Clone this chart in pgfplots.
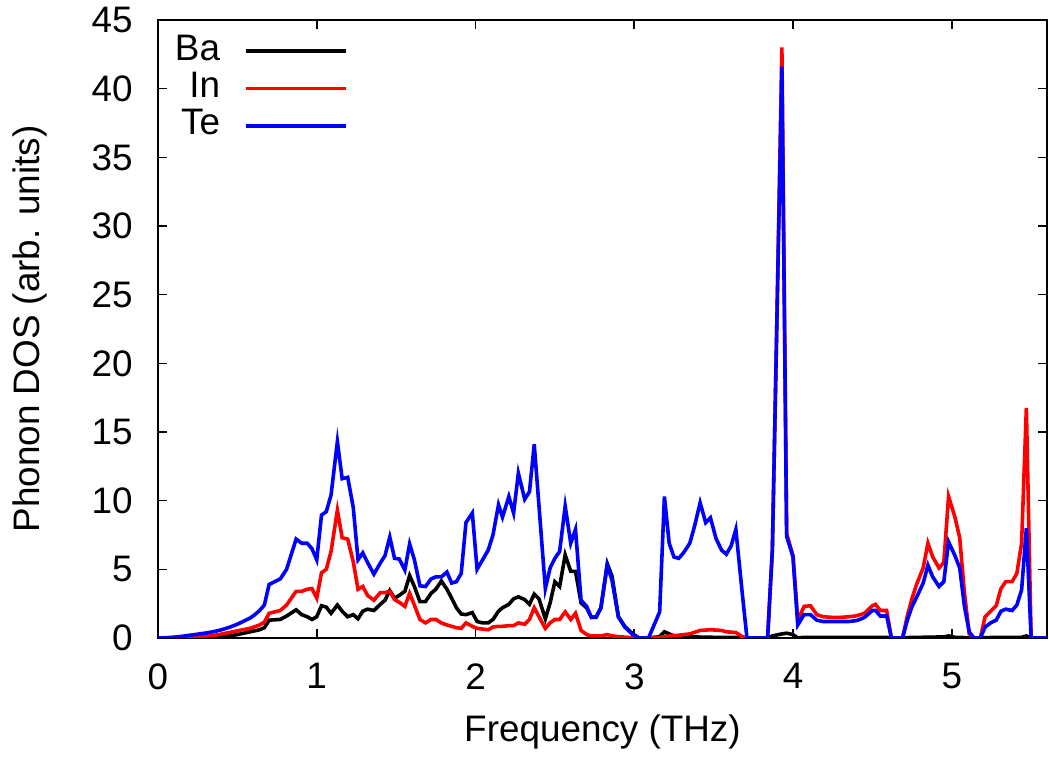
\documentclass[border=0pt]{standalone}
\usepackage{fontspec}
\setmainfont{Liberation Sans}
\usepackage{pgfplots}
\pgfplotsset{compat=1.18}
\begin{document}
\fontsize{18.5}{22}\selectfont
\begin{tikzpicture}
\begin{axis}[
  at={(0,0)}, anchor=south west,
  scale only axis, width=444.5bp, height=309bp,
  xmin=0, xmax=5.6, ymin=0, ymax=45,
  xtick={0,1,2,3,4,5}, ytick={0,5,10,15,20,25,30,35,40,45},
  tick align=inside, major tick length=4.5bp,
  axis line style={line width=1bp},
  every tick/.style={line width=0.8bp, black},
  /pgf/number format/assume math mode=true,
  tick label style={font=\fontsize{18.5}{22}\selectfont},
  xticklabel style={yshift=-6.3bp},
  yticklabel style={xshift=-6.3bp},
  xlabel={Frequency (THz)}, ylabel={Phonon DOS (arb. units)},
  label style={font=\fontsize{18.5}{22}\selectfont},
  xlabel style={at={(axis description cs:0.5,-0.152)}, anchor=center},
  ylabel style={at={(axis description cs:-0.144,0.5)}, anchor=center},
  legend plot pos=right, legend cell align=right,
  legend style={draw=none, fill=none, at={(axis description cs:0.2205,0.987)}, anchor=north east,
    nodes={inner sep=0pt, text height=0.75em, text depth=0.25em}, column sep=12bp, row sep=0.3bp,
    font=\fontsize{18.5}{22}\selectfont},
  legend image code/.code={\draw[#1] (0bp,0bp) -- (50bp,0bp);},
  every axis plot/.append style={line width=1.8bp},
]
% Ba
\addplot[black] coordinates {
(0,0) (0.2,0.02) (0.37,0.05) (0.45,0.15) (0.50,0.25) (0.58,0.45) (0.64,0.6) (0.67,0.75)
(0.70,1.3) (0.77,1.35) (0.81,1.6) (0.87,2.05) (0.905,1.7) (0.94,1.55) (0.97,1.35) (1.00,1.55)
(1.03,2.35) (1.06,2.25) (1.09,1.8) (1.13,2.4) (1.16,1.95) (1.195,1.55) (1.23,1.7) (1.26,1.4)
(1.29,1.95) (1.32,2.1) (1.36,2.0) (1.40,2.45) (1.43,2.75) (1.46,3.45) (1.49,2.9) (1.52,3.1)
(1.555,3.4) (1.585,4.55) (1.615,3.75) (1.65,2.65) (1.685,2.65) (1.72,3.25) (1.75,3.55) (1.785,4.15)
(1.82,3.55) (1.85,2.9) (1.88,2.2) (1.91,1.75) (1.94,1.7) (1.98,1.85) (2.01,1.2) (2.045,1.1)
(2.08,1.1) (2.11,1.35) (2.145,1.95) (2.17,2.2) (2.21,2.45) (2.24,2.85) (2.27,3.0) (2.31,2.8)
(2.34,2.45) (2.37,3.2) (2.40,2.85) (2.44,1.4) (2.47,2.55) (2.50,4.1) (2.53,3.75) (2.565,6.05)
(2.60,4.85) (2.63,4.85) (2.665,2.55) (2.70,2.2) (2.73,1.5) (2.76,1.5) (2.79,2.2) (2.83,5.4)
(2.86,4.5) (2.90,1.55) (2.94,0.85) (2.99,0.3) (3.03,0) (3.09,0) (3.16,0.1) (3.19,0.45)
(3.22,0.3) (3.25,0.15) (3.28,0.1) (3.35,0.08) (3.50,0.05) (3.68,0.03) (3.71,0) (3.84,0)
(3.87,0.15) (3.93,0.3) (3.96,0.35) (4.00,0.25) (4.03,0) (4.07,0.05) (4.50,0.05) (4.59,0.05)
(4.62,0) (4.69,0) (4.72,0.03) (4.95,0.08) (4.98,0.15) (5.02,0.05) (5.11,0.02) (5.14,0) (5.18,0)
(5.21,0.03) (5.44,0.05) (5.47,0.15) (5.50,0) (5.6,0)
};
\addlegendentry{Ba}
% In
\addplot[red] coordinates {
(0,0) (0.1,0.01) (0.2,0.05) (0.3,0.15) (0.37,0.22) (0.45,0.4) (0.50,0.52) (0.58,0.7)
(0.64,0.95) (0.67,1.15) (0.70,1.8) (0.77,2.0) (0.81,2.4) (0.87,3.4) (0.905,3.4) (0.94,3.55)
(0.97,3.6) (1.00,2.9) (1.03,4.75) (1.06,5.0) (1.09,6.3) (1.13,9.3) (1.16,7.3) (1.195,7.2)
(1.23,5.55) (1.26,3.55) (1.29,3.75) (1.32,3.1) (1.36,2.75) (1.40,3.3) (1.43,3.3) (1.46,3.4)
(1.49,2.8) (1.52,2.6) (1.555,2.3) (1.585,3.25) (1.615,2.4) (1.65,1.35) (1.685,1.1) (1.72,1.35)
(1.75,1.35) (1.785,1.1) (1.82,0.95) (1.85,0.85) (1.88,0.75) (1.91,0.7) (1.94,1.1) (1.98,0.85)
(2.01,0.7) (2.045,0.65) (2.08,0.6) (2.11,0.8) (2.145,0.85) (2.17,0.85) (2.21,0.9) (2.24,0.9)
(2.27,1.1) (2.31,1.0) (2.34,1.35) (2.37,2.2) (2.40,1.55) (2.44,0.7) (2.47,1.1) (2.50,1.35)
(2.53,1.35) (2.565,1.9) (2.60,1.35) (2.63,1.8) (2.665,0.55) (2.70,0.25) (2.73,0.15) (2.76,0.15)
(2.79,0.15) (2.83,0.25) (2.86,0.15) (2.90,0.1) (2.99,0.02) (3.03,0) (3.09,0) (3.16,0.05)
(3.22,0.15) (3.28,0.2) (3.35,0.3) (3.415,0.55) (3.48,0.6) (3.55,0.55) (3.58,0.45) (3.64,0.4)
(3.68,0.1) (3.71,0) (3.84,0) (3.87,6.4) (3.90,24) (3.93,43.0) (3.96,7.6) (4.00,6.0)
(4.03,1.3) (4.07,2.3) (4.11,2.35) (4.15,1.7) (4.19,1.55) (4.25,1.5) (4.30,1.5) (4.35,1.55)
(4.39,1.6) (4.41,1.65) (4.45,1.8) (4.50,2.35) (4.52,2.45) (4.55,2.0) (4.59,2.0) (4.62,0)
(4.69,0) (4.72,1.6) (4.75,2.9) (4.78,3.95) (4.82,5.1) (4.85,6.9) (4.88,5.9) (4.92,5.1)
(4.95,5.5) (4.98,10.3) (5.02,8.8) (5.05,7.3) (5.08,3.3) (5.11,0.3) (5.14,0) (5.18,0)
(5.21,1.55) (5.245,1.95) (5.28,2.35) (5.31,3.6) (5.34,4.1) (5.38,4.1) (5.41,4.7) (5.44,6.9)
(5.47,16.75) (5.50,0) (5.6,0)
};
\addlegendentry{In}
% Te
\addplot[blue] coordinates {
(0,0) (0.05,0.02) (0.10,0.06) (0.15,0.12) (0.20,0.2) (0.25,0.28) (0.30,0.36) (0.35,0.46)
(0.40,0.6) (0.45,0.78) (0.50,1.0) (0.55,1.28) (0.58,1.45) (0.61,1.7) (0.64,2.0) (0.67,2.4)
(0.70,3.9) (0.77,4.3) (0.81,5.0) (0.87,7.2) (0.905,6.9) (0.94,6.9) (0.97,6.5) (1.00,5.7)
(1.03,8.95) (1.06,9.2) (1.09,10.4) (1.13,14.3) (1.16,11.6) (1.195,11.7) (1.23,9.5) (1.26,5.7)
(1.29,6.2) (1.32,5.5) (1.36,4.65) (1.40,5.45) (1.43,6.0) (1.46,7.35) (1.49,5.8) (1.52,5.75)
(1.555,4.95) (1.585,6.85) (1.615,5.7) (1.65,3.8) (1.685,3.75) (1.72,4.3) (1.75,4.45) (1.785,4.45)
(1.82,4.8) (1.85,4.0) (1.88,4.1) (1.91,4.7) (1.94,8.4) (1.98,9.1) (2.01,5.0) (2.045,5.7)
(2.08,6.4) (2.11,7.5) (2.145,9.7) (2.17,8.8) (2.21,10.3) (2.24,9.1) (2.27,12.0) (2.31,10.1)
(2.34,10.65) (2.37,14.1) (2.44,3.6) (2.47,5.1) (2.50,5.8) (2.53,6.3) (2.565,9.6) (2.60,6.9)
(2.63,7.9) (2.665,2.75) (2.70,2.3) (2.73,1.5) (2.76,1.55) (2.79,2.2) (2.83,5.3) (2.86,4.2)
(2.90,1.55) (2.94,0.8) (2.99,0.25) (3.03,0) (3.09,0) (3.16,1.9) (3.19,10.3) (3.22,6.9)
(3.25,5.9) (3.28,5.8) (3.31,6.2) (3.35,6.9) (3.38,8.15) (3.415,9.85) (3.45,8.4) (3.48,8.75)
(3.515,7.25) (3.55,6.4) (3.58,6.1) (3.61,6.7) (3.64,7.9) (3.68,3.3) (3.71,0) (3.84,0)
(3.87,6.4) (3.90,24) (3.93,41.6) (3.96,7.4) (4.00,5.9) (4.03,0.95) (4.07,1.7) (4.11,1.7)
(4.15,1.3) (4.19,1.2) (4.25,1.2) (4.30,1.2) (4.35,1.2) (4.39,1.25) (4.41,1.3) (4.45,1.5)
(4.50,2.0) (4.52,2.0) (4.55,1.6) (4.59,1.6) (4.62,0) (4.69,0) (4.72,1.3) (4.75,2.3)
(4.78,3.0) (4.82,4.0) (4.85,5.3) (4.88,4.45) (4.92,3.75) (4.95,4.1) (4.98,7.0) (5.02,6.0)
(5.05,5.1) (5.08,2.3) (5.11,0.45) (5.14,0) (5.18,0) (5.21,0.8) (5.245,1.1) (5.28,1.3)
(5.31,1.95) (5.34,2.1) (5.38,2.0) (5.41,2.4) (5.44,3.5) (5.47,8.0) (5.50,0) (5.6,0)
};
\addlegendentry{Te}
\end{axis}
\pgfresetboundingbox
\path (-79bp,-59.5bp) rectangle (445.5bp,319bp);
\end{tikzpicture}
\end{document}
